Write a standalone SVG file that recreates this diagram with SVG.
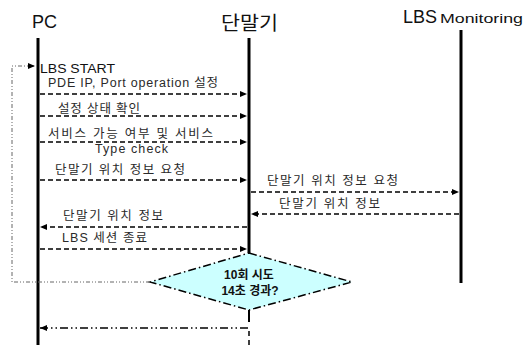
<svg xmlns="http://www.w3.org/2000/svg" width="531" height="345" viewBox="0 0 531 345">
<style>
text{font-family:"Liberation Sans","Noto Sans CJK KR",sans-serif;fill:#111}
.hd{font-size:18px}
.lb{font-size:12.5px;fill:#2a2a2a}
.life{stroke:#000;stroke-width:3;fill:none}
.msg{stroke:#000;stroke-width:1.5;stroke-dasharray:5,3;fill:none}
.loop{stroke:#666;stroke-width:1;stroke-dasharray:4,2,1,2,1,2;fill:none}
.ret{stroke:#000;stroke-width:1.5;stroke-dasharray:8,3,1.5,3,1.5,3;fill:none}
</style>
<defs>
<marker id="ah" markerWidth="7" markerHeight="6" refX="7" refY="3" orient="auto" markerUnits="userSpaceOnUse">
<path d="M0,0 L7,3 L0,6 Z" fill="#000"/>
</marker>
</defs>
<rect width="531" height="345" fill="#fff"/>
<g id="pc">
<text class="hd" x="32" y="28">PC</text>
<line class="life" x1="38" y1="38" x2="38" y2="345"/>
</g>
<g id="terminal">
<text x="221" y="30" font-size="19" textLength="57" lengthAdjust="spacingAndGlyphs">단말기</text>
<line class="life" x1="249" y1="38" x2="249" y2="253"/>
<line stroke="#000" stroke-width="2" x1="249" y1="310" x2="249" y2="322"/>
<line stroke="#000" stroke-width="1.5" stroke-dasharray="5,4" x1="249" y1="331" x2="249" y2="345"/>
</g>
<g id="monitoring">
<text x="403" y="23"><tspan font-size="18">LBS</tspan><tspan x="440" font-size="12.5" textLength="83" lengthAdjust="spacingAndGlyphs">Monitoring</tspan></text>
<line class="life" x1="461" y1="30" x2="461" y2="283"/>
</g>
<g id="decision">
<polygon points="249,253 352,282 249,310 150,282" fill="#ccffff" stroke="#000" stroke-width="1.5" stroke-dasharray="8,3,1.5,3"/>
<text x="249" y="279" font-size="12" font-weight="bold" text-anchor="middle">10회 시도</text>
<text x="250" y="295" font-size="12" font-weight="bold" text-anchor="middle">14초 경과?</text>
</g>
<g id="connectors">
<polyline class="loop" points="150,282 12,282 12,66 35,66" marker-end="url(#ah)"/>
<line class="msg" x1="40" y1="94" x2="247" y2="94" marker-end="url(#ah)"/>
<line class="msg" x1="40" y1="116" x2="247" y2="116" marker-end="url(#ah)"/>
<line class="msg" x1="40" y1="142" x2="247" y2="142" marker-end="url(#ah)"/>
<line class="msg" x1="40" y1="180" x2="247" y2="180" marker-end="url(#ah)"/>
<line class="msg" x1="251" y1="192" x2="459" y2="192" marker-end="url(#ah)"/>
<line class="msg" x1="459" y1="214" x2="251" y2="214" marker-end="url(#ah)"/>
<line class="msg" x1="247" y1="227" x2="40" y2="227" marker-end="url(#ah)"/>
<line class="msg" x1="40" y1="249" x2="247" y2="249" marker-end="url(#ah)"/>
<line class="ret" x1="248" y1="328" x2="40" y2="328" marker-end="url(#ah)"/>
</g>
<g id="labels">
<text x="40" y="73" font-size="13" textLength="75" lengthAdjust="spacingAndGlyphs">LBS START</text>
<text class="lb" x="48" y="87" font-size="11.5" textLength="170" lengthAdjust="spacing">PDE IP, Port operation 설정</text>
<text class="lb" x="58" y="113" textLength="82" lengthAdjust="spacing">설정 상태 확인</text>
<text class="lb" x="48" y="138" textLength="165" lengthAdjust="spacing">서비스 가능 여부 및 서비스</text>
<text class="lb" x="95" y="153" textLength="73" lengthAdjust="spacing">Type  check</text>
<text class="lb" x="55" y="174" textLength="130" lengthAdjust="spacing">단말기 위치 정보 요청</text>
<text class="lb" x="267" y="185" textLength="131" lengthAdjust="spacing">단말기 위치 정보 요청</text>
<text class="lb" x="279" y="208" textLength="101" lengthAdjust="spacing">단말기 위치 정보</text>
<text class="lb" x="63" y="220" textLength="100" lengthAdjust="spacing">단말기 위치 정보</text>
<text class="lb" x="62" y="242" textLength="85" lengthAdjust="spacing">LBS 세션 종료</text>
</g>
</svg>
